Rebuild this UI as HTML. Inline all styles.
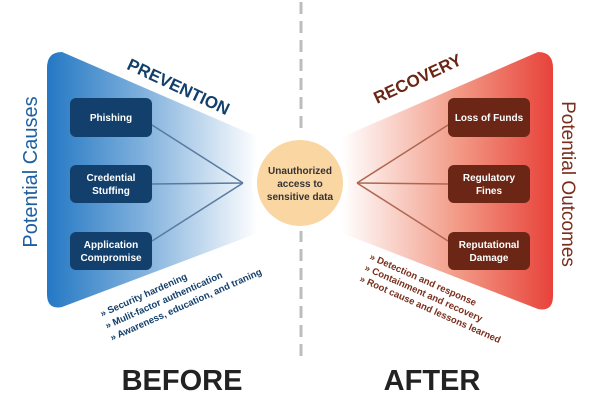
<!DOCTYPE html>
<html><head><meta charset="utf-8"><style>
html,body{margin:0;padding:0;background:#fff;}
svg{display:block;}
text{font-family:"Liberation Sans",sans-serif;}
</style></head><body>
<svg width="600" height="400" viewBox="0 0 600 400" xmlns="http://www.w3.org/2000/svg">
<defs>
<linearGradient id="gl" x1="47" y1="0" x2="258" y2="0" gradientUnits="userSpaceOnUse">
<stop offset="0" stop-color="#2478c4"/><stop offset="0.45" stop-color="#7fb0dc"/><stop offset="1" stop-color="#ffffff"/>
</linearGradient>
<linearGradient id="gr" x1="553" y1="0" x2="342" y2="0" gradientUnits="userSpaceOnUse">
<stop offset="0" stop-color="#e8423a"/><stop offset="0.45" stop-color="#f29a86"/><stop offset="1" stop-color="#ffffff"/>
</linearGradient>
</defs>
<line x1="301" y1="2" x2="301" y2="360" stroke="#bdbdbd" stroke-width="3" stroke-dasharray="12 7"/>
<path d="M62,52 Q47,52 47,68 L47,294 Q47,310 62,307 L258,233 L258,137 Z" fill="url(#gl)"/>
<path d="M538,52 Q553,52 553,68 L553,296 Q553,312 538,309 L342,233 L342,137 Z" fill="url(#gr)"/>
<circle cx="300" cy="183" r="48" fill="#fff"/>
<circle cx="300" cy="183" r="43" fill="#f9d6a2"/>
<text x="300" y="174" font-size="10" font-weight="bold" fill="#333" text-anchor="middle">Unauthorized</text>
<text x="300" y="187" font-size="10" font-weight="bold" fill="#333" text-anchor="middle">access to</text>
<text x="300" y="200" font-size="10" font-weight="bold" fill="#333" text-anchor="middle">sensitive data</text>
<g stroke="#5a7aa0" stroke-width="1.5" fill="none">
<line x1="152" y1="125" x2="243" y2="183"/><line x1="152" y1="184" x2="243" y2="183"/><line x1="152" y1="241" x2="243" y2="183"/>
</g>
<g stroke="#b06650" stroke-width="1.5" fill="none">
<line x1="448" y1="125" x2="357" y2="183"/><line x1="448" y1="184" x2="357" y2="183"/><line x1="448" y1="241" x2="357" y2="183"/>
</g>
<g fill="#123f6b">
<rect x="70" y="98" width="82" height="39" rx="6"/><rect x="70" y="165" width="82" height="38" rx="6"/><rect x="70" y="232" width="82" height="38" rx="6"/>
</g>
<g fill="#6b2616">
<rect x="448" y="98" width="82" height="39" rx="6"/><rect x="448" y="165" width="82" height="38" rx="6"/><rect x="448" y="232" width="82" height="38" rx="6"/>
</g>
<g font-size="10" font-weight="bold" fill="#fff" text-anchor="middle">
<text x="111" y="121">Phishing</text>
<text x="111" y="181">Credential</text><text x="111" y="194">Stuffing</text>
<text x="111" y="248">Application</text><text x="111" y="261">Compromise</text>
<text x="489" y="121">Loss of Funds</text>
<text x="489" y="181">Regulatory</text><text x="489" y="194">Fines</text>
<text x="489" y="248">Reputational</text><text x="489" y="261">Damage</text>
</g>
<text transform="translate(176,92) rotate(25)" font-size="17" font-weight="bold" fill="#123f6b" text-anchor="middle">PREVENTION</text>
<text transform="translate(420,84) rotate(-25)" font-size="17" font-weight="bold" fill="#6b2616" text-anchor="middle">RECOVERY</text>
<text transform="translate(37,172) rotate(-90)" font-size="20" fill="#1e5fa0" text-anchor="middle">Potential Causes</text>
<text transform="translate(562,184) rotate(90)" font-size="19" fill="#7a2e1c" text-anchor="middle">Potential Outcomes</text>
<g font-size="9.5" font-weight="bold" fill="#123f6b">
<text transform="translate(102,317) rotate(-24)">» Security hardening</text>
<text transform="translate(107,329) rotate(-24)">» Mulit-factor authentication</text>
<text transform="translate(112,341) rotate(-24)">» Awareness, education, and traning</text>
</g>
<g font-size="9.5" font-weight="bold" fill="#7a2e1c">
<text transform="translate(369,259) rotate(24)">» Detection and response</text>
<text transform="translate(364,270) rotate(24)">» Containment and recovery</text>
<text transform="translate(359,281) rotate(24)">» Root cause and lessons learned</text>
</g>
<text x="182" y="390" font-size="29" font-weight="bold" fill="#222" text-anchor="middle">BEFORE</text>
<text x="432" y="390" font-size="29" font-weight="bold" fill="#222" text-anchor="middle">AFTER</text>
</svg>
</body></html>
